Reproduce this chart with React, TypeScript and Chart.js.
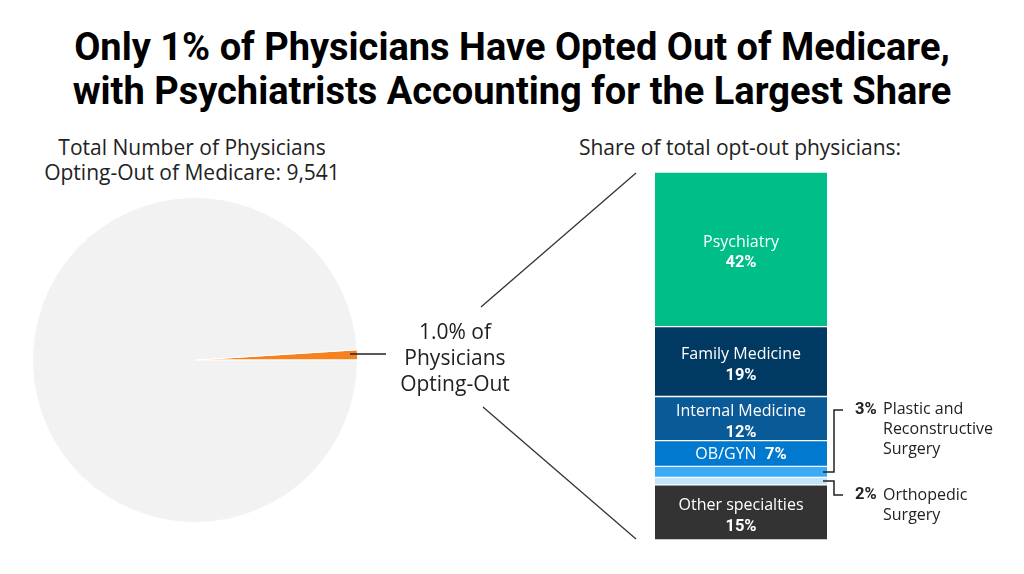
import React, { useEffect, useRef } from "react";
import { Chart, registerables } from "chart.js";

Chart.register(...registerables);

// ---------- DATA ----------
const titleLines = [
  "Only 1% of Physicians Have Opted Out of Medicare,",
  "with Psychiatrists Accounting for the Largest Share",
];
const totalOptOut = 9541;
const optOutPct = 1.0; // % of all physicians
const pieLabels = ["Opting-Out", "Not opting-out"];
const pieColors = ["#F5821F", "#F2F2F2"];

const specialties = [
  "Psychiatry",
  "Family Medicine",
  "Internal Medicine",
  "OB/GYN",
  "Plastic and Reconstructive Surgery",
  "Orthopedic Surgery",
  "Other specialties",
];
const shares = [42, 19, 12, 7, 3, 2, 15];
const barColors = ["#00BE87", "#003A63", "#0B5A98", "#0079CE", "#3DAAF5", "#C3E5FB", "#333333"];

// ---------- STYLE ----------
const BODY_FONT = "'Open Sans', 'Noto Sans', sans-serif";
const BOLD_FONT = "Roboto, 'Open Sans', sans-serif";
const TEXT = "#222222";
// outside label vertical offset from segment centre (px): negative = above
const outsideOffsets: Record<number, number> = { 4: -62, 5: 14 };

function wrap(ctx: CanvasRenderingContext2D, text: string, maxW: number): string[] {
  const words = text.split(" ");
  const lines: string[] = [];
  let cur = "";
  for (const w of words) {
    const t = cur ? cur + " " + w : w;
    if (ctx.measureText(t).width > maxW && cur) {
      lines.push(cur);
      cur = w;
    } else cur = t;
  }
  if (cur) lines.push(cur);
  return lines;
}

const segLabelPlugin = {
  id: "segLabels",
  afterDatasetsDraw(chart: any) {
    const ctx: CanvasRenderingContext2D = chart.ctx;
    ctx.save();
    chart.data.datasets.forEach((ds: any, i: number) => {
      const el = chart.getDatasetMeta(i).data[0];
      const { x, y, base, width } = el.getProps(["x", "y", "base", "width"], true);
      const cy = (y + base) / 2;
      const name = specialties[i];
      const pct = shares[i] + "%";
      const segH = Math.abs(base - y);
      const nameFont = `16px ${BODY_FONT}`;
      const pctFont = `bold 16.5px ${BOLD_FONT}`;
      ctx.textBaseline = "middle";
      if (segH >= 40) {
        ctx.fillStyle = "#ffffff";
        ctx.textAlign = "center";
        ctx.font = nameFont;
        ctx.fillText(name, x, cy - 7);
        ctx.font = pctFont;
        ctx.fillText(pct, x, cy + 14);
      } else if (segH >= 20) {
        ctx.fillStyle = "#ffffff";
        ctx.textAlign = "left";
        ctx.font = nameFont;
        const nw = ctx.measureText(name + "  ").width;
        ctx.font = pctFont;
        const pw = ctx.measureText(pct).width;
        const x0 = x - (nw + pw) / 2;
        ctx.font = nameFont;
        ctx.fillText(name + "  ", x0, cy + 1);
        ctx.font = pctFont;
        ctx.fillText(pct, x0 + nw, cy + 1);
      } else {
        const right = x + width / 2;
        const off = outsideOffsets[i] ?? 0;
        const ly = cy + off;
        ctx.strokeStyle = "#222";
        ctx.lineWidth = 1.5;
        ctx.beginPath();
        ctx.moveTo(right - 4, cy);
        ctx.lineTo(right + 7, cy);
        ctx.lineTo(right + 7, ly);
        ctx.lineTo(right + 16, ly);
        ctx.stroke();
        ctx.fillStyle = TEXT;
        ctx.textAlign = "left";
        ctx.font = pctFont;
        ctx.fillText(pct, right + 28, ly);
        ctx.font = nameFont;
        const lines = wrap(ctx, name, 125);
        lines.forEach((ln, k) => ctx.fillText(ln, right + 56, ly + k * 20));
      }
    });
    ctx.restore();
  },
};

export default function App() {
  const pieRef = useRef<HTMLCanvasElement>(null);
  const barRef = useRef<HTMLCanvasElement>(null);

  useEffect(() => {
    const pie = new Chart(pieRef.current!, {
      type: "pie",
      data: {
        labels: pieLabels,
        datasets: [
          {
            data: [optOutPct, 100 - optOutPct],
            backgroundColor: pieColors,
            borderColor: "#ffffff",
            borderWidth: 1,
            hoverOffset: 0,
          },
        ],
      },
      options: {
        responsive: false,
        animation: false,
        rotation: 90 - optOutPct * 3.6,
        layout: { padding: 0 },
        plugins: { legend: { display: false }, tooltip: { enabled: false } },
      },
    });

    const bar = new Chart(barRef.current!, {
      type: "bar",
      data: {
        labels: [""],
        datasets: specialties.map((s, i) => ({
          label: s,
          data: [shares[i]],
          backgroundColor: barColors[i],
          borderColor: "#ffffff",
          borderWidth: { top: 1, bottom: 1, left: 0, right: 0 },
          borderSkipped: false,
          barPercentage: 1,
          categoryPercentage: 1,
        })),
      },
      options: {
        responsive: false,
        animation: false,
        layout: { padding: { left: 15, right: 197, top: 12, bottom: 34 } },
        scales: {
          x: { stacked: true, display: false },
          y: { stacked: true, display: false, min: 0, max: 100, reverse: true },
        },
        plugins: { legend: { display: false }, tooltip: { enabled: false } },
      },
      plugins: [segLabelPlugin],
    });

    return () => {
      pie.destroy();
      bar.destroy();
    };
  }, []);

  return (
    <div
      style={{
        position: "absolute",
        left: 0,
        top: 0,
        width: 1024,
        height: 574,
        background: "#ffffff",
        overflow: "hidden",
        fontFamily: BODY_FONT,
        color: TEXT,
      }}
    >
      <div
        style={{
          position: "absolute",
          left: 0,
          top: 25,
          width: 1024,
          textAlign: "center",
          fontFamily: BOLD_FONT,
          fontWeight: 700,
          fontSize: 38,
          lineHeight: "44px",
          color: "#000",
          whiteSpace: "nowrap",
        }}
      >
        {titleLines.map((t) => (
          <div key={t}>{t}</div>
        ))}
      </div>

      <div
        style={{
          position: "absolute",
          left: 42,
          top: 135,
          width: 300,
          textAlign: "center",
          fontSize: 21,
          lineHeight: "25px",
        }}
      >
        <div>Total Number of Physicians</div>
        <div>Opting-Out of Medicare: {totalOptOut.toLocaleString("en-US")}</div>
      </div>

      <div
        style={{
          position: "absolute",
          left: 540,
          top: 135,
          width: 400,
          textAlign: "center",
          fontSize: 21,
          lineHeight: "25px",
        }}
      >
        Share of total opt-out physicians:
      </div>

      <canvas
        ref={pieRef}
        width={326}
        height={326}
        style={{ position: "absolute", left: 32, top: 197, width: 326, height: 326 }}
      />
      <canvas
        ref={barRef}
        width={384}
        height={414}
        style={{ position: "absolute", left: 640, top: 160, width: 384, height: 414 }}
      />

      <svg
        width={1024}
        height={574}
        style={{ position: "absolute", left: 0, top: 0, pointerEvents: "none" }}
      >
        <line x1={350} y1={354} x2={386} y2={354} stroke="#222" strokeWidth={1.5} />
        <line x1={481} y1={307} x2={636} y2={173} stroke="#333" strokeWidth={1.3} />
        <line x1={483} y1={407} x2={636} y2={539} stroke="#333" strokeWidth={1.3} />
      </svg>

      <div
        style={{
          position: "absolute",
          left: 355,
          top: 318,
          width: 200,
          textAlign: "center",
          fontSize: 21,
          lineHeight: "26px",
        }}
      >
        <div>{optOutPct.toFixed(1)}% of</div>
        <div>Physicians</div>
        <div>Opting-Out</div>
      </div>
    </div>
  );
}
